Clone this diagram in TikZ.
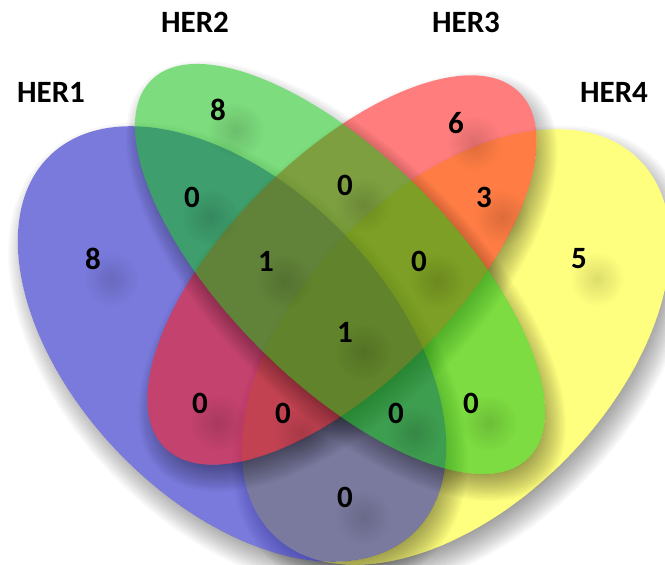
\documentclass[tikz,border=0pt]{standalone}
\usepackage{fontspec}
\setmainfont{Carlito}
\usetikzlibrary{fadings}
\tikzfading[name=softspot, inner color=transparent!25, outer color=transparent!100]
\definecolor{cblue}{RGB}{0,0,190}
\definecolor{cgreen}{RGB}{10,190,10}
\definecolor{cred}{RGB}{255,20,20}
\definecolor{cyellow}{RGB}{255,255,0}
% #1 cx, #2 cy, #3 angle, #4 a, #5 b, #6 colour, #7 opacity
\newcommand\vennellipse[7]{%
  \begin{scope}
    \clip[rotate around={#3:(#1,#2)}]
      (3000,-3000) -- (3000,3000) -- (-3000,3000) -- (-3000,-3000) -- cycle
      (#1,#2) ellipse [x radius=#4pt, y radius=#5pt];
    \foreach \s in {-12,-10,...,16}{%
      \pgfmathsetmacro\ra{#4+\s}%
      \pgfmathsetmacro\rb{#5+\s}%
      \fill[shadowfill, rotate around={#3:(#1+6,#2+12)}]
        (#1+6,#2+12) ellipse [x radius=\ra pt, y radius=\rb pt];
    }
  \end{scope}
  \fill[#6, fill opacity=#7, rotate around={#3:(#1,#2)}]
    (#1,#2) ellipse [x radius=#4pt, y radius=#5pt];
}
\begin{document}
\begin{tikzpicture}[x=1pt, y=-1pt,
  shadowfill/.style={black, fill opacity=0.026},
  lbl/.style={font=\fontsize{31}{36}\selectfont\bfseries, inner sep=0pt},
  spot/.style={black, fill opacity=0.18, path fading=softspot}]
\fill[white, use as bounding box] (0,0) rectangle (665,565);
% sets: yellow (HER4), blue (HER1), red (HER3), green (HER2)
\vennellipse{456}{347}{46}{262}{157}{cyellow}{0.5}
\vennellipse{232}{344}{-46}{262}{157}{cblue}{0.52}
\vennellipse{342}{270}{45}{251}{113}{cred}{0.55}
\vennellipse{340}{269}{-45}{267}{113}{cgreen}{0.53}
% soft spots under the counts
\foreach \x/\y in {93/259, 218/110, 456/123, 579/259, 192/197, 345/185, 484/197,
  266/261, 419/261, 345/332, 200/403, 283/413, 396/413, 471/403, 345/497}
  \fill[spot] (\x+18,\y+20) circle (28pt);
% set names
\node[lbl] (h1) at (51,92) {HER1};
\node[lbl] (h2) at (195,22) {HER2};
\node[lbl] (h3) at (466,22) {HER3};
\node[lbl] (h4) at (614,92) {HER4};
% counts
\node[lbl] (n1) at (93,259) {8};
\node[lbl] (n2) at (218,110) {8};
\node[lbl] (n3) at (456,123) {6};
\node[lbl] (n4) at (579,259) {5};
\node[lbl] (n12) at (192,197) {0};
\node[lbl] (n23) at (345,185) {0};
\node[lbl] (n34) at (484,197) {3};
\node[lbl] (n123) at (266,261) {1};
\node[lbl] (n234) at (419,261) {0};
\node[lbl] (n1234) at (345,332) {1};
\node[lbl] (n13) at (200,403) {0};
\node[lbl] (n134) at (283,413) {0};
\node[lbl] (n124) at (396,413) {0};
\node[lbl] (n24) at (471,403) {0};
\node[lbl] (n14) at (345,497) {0};
\end{tikzpicture}
\end{document}
